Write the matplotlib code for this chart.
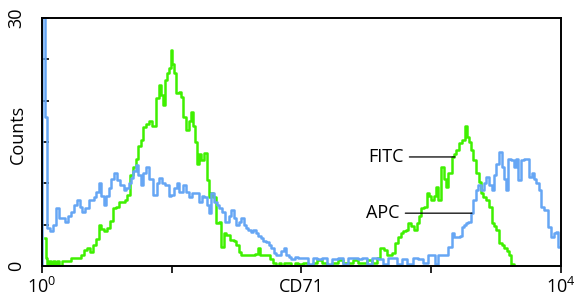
from matplotlib import pyplot as plt
import numpy as np

# log amplifier: 1024 channels over 4 decades
CHANNELS_PER_DECADE = 256

fitc_ch = [6, 8, 12, 16, 20, 24, 28, 32, 37, 41, 47, 55, 61, 67, 73, 79, 85, 91, 97, 103,
           109, 114, 120, 126, 132, 138, 142, 148, 154, 160, 166, 170, 176, 182, 187, 193,
           197, 203, 209, 215, 221, 227, 233, 237, 241, 245, 249, 253, 256, 258, 262, 268,
           272, 276, 282, 288, 292, 296, 300, 304, 308, 312, 316, 322, 328, 331, 335, 341,
           347, 351, 357, 361, 367, 375, 381, 385, 391, 395, 402, 410, 418, 424, 428, 434,
           440, 446, 452, 458, 464, 470, 475, 481, 489, 495, 503, 509, 519, 529, 539, 548,
           558, 568, 578, 588, 598, 608, 618, 627, 637, 647, 657, 663, 671, 677, 683, 689,
           694, 700, 706, 710, 716, 720, 726, 732, 736, 742, 746, 750, 756, 762, 766, 771,
           775, 779, 785, 791, 795, 799, 805, 811, 815, 819, 825, 831, 837, 840, 844, 848,
           854, 860, 864, 868, 874, 878, 884, 890, 894, 898, 904, 910, 914, 919, 923, 929,
           935, 983, 1022]
fitc_counts = [3.4, 1.0, 0.3, 0.6, 0.0, 0.6, 0.3, 0.6, 0.0, 0.6, 0.6, 0.6, 1.0, 1.0, 1.0, 1.3,
               2.0, 2.2, 1.7, 2.5, 3.3, 5.0, 4.5, 4.2, 4.6, 5.5, 7.0, 7.2, 7.7, 7.8, 8.0, 8.6,
               11.0, 12.0, 13.0, 14.5, 15.2, 16.8, 17.2, 17.6, 17.0, 20.3, 21.9, 20.7, 19.5,
               22.5, 23.3, 24.0, 26.1, 24.5, 23.3, 20.9, 21.0, 20.4, 18.0, 16.4, 17.5, 18.6,
               17.0, 15.0, 12.4, 13.5, 12.8, 13.7, 10.4, 8.4, 8.8, 8.3, 5.2, 5.3, 2.3, 4.0,
               3.8, 3.1, 3.0, 2.6, 1.7, 1.3, 1.3, 1.3, 1.3, 1.5, 2.2, 1.4, 1.3, 1.3, 0.8, 0.4,
               0.0, 0.4, 0.0, 0.4, 0.4, 0.0, 0.4, 0.2, 0.4, 0.0, 0.4, 0.7, 0.4, 0.0, 0.4, 0.7,
               0.4, 0.4, 0.7, 0.4, 0.4, 0.7, 0.4, 1.0, 2.2, 2.0, 1.3, 1.3, 1.6, 2.8, 3.5, 4.0,
               4.2, 4.4, 5.2, 4.8, 4.4, 5.2, 6.0, 7.0, 7.1, 8.9, 8.5, 8.0, 8.5, 9.6, 8.0, 12.0,
               10.5, 9.6, 11.2, 13.2, 13.5, 14.0, 14.9, 15.2, 17.0, 15.6, 15.0, 14.0, 12.8,
               11.2, 10.2, 8.8, 8.3, 8.0, 7.1, 5.2, 4.8, 4.4, 2.8, 2.5, 2.2, 1.8, 1.3, 0.2,
               0.0, 0.0, 0.0]

apc_ch = [0, 1, 4, 8, 12, 18, 24, 30, 36, 41, 49, 55, 61, 67, 71, 77, 81, 89, 95, 101, 105,
          110, 114, 120, 124, 130, 134, 140, 144, 150, 158, 164, 168, 174, 178, 183, 187, 193,
          197, 203, 209, 215, 223, 229, 233, 239, 247, 253, 258, 264, 268, 274, 282, 288, 292,
          298, 306, 312, 318, 322, 328, 331, 337, 343, 347, 353, 357, 365, 371, 375, 381, 385,
          391, 395, 401, 404, 410, 414, 420, 424, 430, 434, 440, 444, 450, 454, 460, 464, 470,
          475, 479, 485, 489, 495, 503, 509, 519, 529, 539, 548, 558, 568, 578, 588, 598, 608,
          618, 627, 637, 647, 657, 667, 677, 687, 696, 706, 716, 726, 736, 746, 756, 766, 773,
          779, 785, 793, 799, 805, 811, 815, 821, 827, 831, 835, 839, 844, 848, 854, 858, 864,
          870, 874, 878, 884, 890, 894, 898, 904, 910, 914, 917, 923, 929, 933, 937, 943, 949,
          953, 957, 963, 969, 973, 977, 983, 988, 992, 996, 1002, 1008, 1012, 1016, 1022]
apc_counts = [0.0, 45.0, 45.0, 18.0, 4.6, 4.2, 5.0, 7.0, 5.8, 5.8, 5.3, 6.0, 6.5, 7.4, 8.0,
              7.2, 6.5, 7.0, 8.0, 8.0, 8.3, 9.0, 10.0, 8.5, 7.4, 8.5, 9.4, 10.5, 11.2, 10.4,
              9.8, 9.2, 9.4, 10.0, 10.6, 11.5, 12.2, 11.0, 9.8, 11.2, 12.0, 10.5, 8.6, 10.0,
              10.6, 10.0, 9.8, 8.5, 8.6, 9.4, 10.0, 9.0, 9.8, 9.0, 8.3, 8.9, 8.9, 7.7, 8.5,
              8.3, 7.4, 6.4, 8.8, 7.8, 7.4, 7.0, 6.5, 5.3, 6.0, 6.8, 5.8, 5.0, 5.3, 5.8, 5.0,
              4.6, 4.4, 4.1, 4.4, 4.0, 3.6, 3.4, 3.0, 2.9, 2.6, 2.2, 1.6, 1.3, 1.3, 1.8, 2.2,
              1.3, 1.1, 0.9, 1.1, 1.0, 1.0, 0.3, 1.0, 0.9, 1.0, 0.2, 0.9, 1.0, 0.3, 1.0, 1.0,
              0.8, 1.0, 0.3, 1.0, 0.9, 0.3, 1.0, 1.0, 0.3, 0.9, 0.3, 1.0, 0.9, 0.4, 1.3, 1.3,
              0.3, 1.3, 1.3, 1.3, 2.3, 4.0, 3.5, 3.5, 3.6, 4.7, 5.0, 5.2, 5.3, 6.4, 8.0, 9.2,
              9.8, 9.2, 10.0, 10.8, 9.8, 9.2, 11.0, 12.4, 13.8, 12.0, 10.5, 9.2, 13.0, 12.8,
              12.0, 13.0, 10.4, 12.8, 13.0, 13.0, 10.8, 11.2, 10.5, 10.0, 9.2, 7.1, 6.8, 6.8,
              4.7, 3.5, 4.0, 4.1, 2.3]

xticks = [1, 10, 100, 1000, 10000]
xticklabels = [r"$10^0$", "", "", "", r"$10^4$"]
yticks = [0, 5, 10, 15, 20, 25, 30]
yticklabels = ["0", "", "", "", "", "", "30"]

green = "#3ff000"
blue = "#66a6f4"


def to_fluorescence(ch):
    return 10 ** (np.array(ch) / CHANNELS_PER_DECADE)


def histogram():
    plt.rcParams["font.family"] = ["Open Sans", "DejaVu Sans"]
    plt.rcParams["mathtext.fontset"] = "custom"
    plt.rcParams["mathtext.rm"] = "Open Sans"
    plt.rcParams["mathtext.it"] = "Open Sans"

    fig = plt.figure(figsize=(5.8, 3.01), dpi=100)
    ax = fig.add_axes([0.0724, 0.116, 0.8948, 0.824])

    ax.plot(to_fluorescence(fitc_ch), fitc_counts, color=green, lw=1.8,
            drawstyle="steps-mid")
    ax.plot(to_fluorescence(apc_ch), apc_counts, color=blue, lw=1.8,
            drawstyle="steps-mid")

    ax.set_xscale("log")
    ax.set_xlim(1, 10000)
    ax.set_ylim(0, 30)

    ax.set_xticks(xticks)
    ax.set_xticklabels(xticklabels, fontsize=13)
    ax.xaxis.set_minor_locator(plt.NullLocator())
    ax.tick_params(axis="x", direction="out", length=5, width=1.2, pad=3)

    ax.set_yticks(yticks)
    ax.set_yticklabels(yticklabels, fontsize=13, rotation=90, va="center")
    ax.tick_params(axis="y", direction="in", length=5, width=1.2, pad=12)

    for s in ax.spines.values():
        s.set_linewidth(1.4)

    ax.set_xlabel("CD71", fontsize=13, va="top")
    ax.xaxis.set_label_coords(0.5, -0.05)
    ax.set_ylabel("Counts", fontsize=13, va="center")
    ax.yaxis.set_label_coords(-0.046, 0.53)

    # curve labels
    ax.annotate("FITC", xy=(1524, 13.2), xytext=(615, 13.2), fontsize=13,
                ha="right", va="center",
                arrowprops=dict(arrowstyle="-", lw=0.9, color="black",
                                shrinkA=2, shrinkB=0))
    ax.annotate("APC", xy=(2061, 6.4), xytext=(572, 6.4), fontsize=13,
                ha="right", va="center",
                arrowprops=dict(arrowstyle="-", lw=0.9, color="black",
                                shrinkA=2, shrinkB=0))

    plt.savefig("out.png", dpi=100)


histogram()
